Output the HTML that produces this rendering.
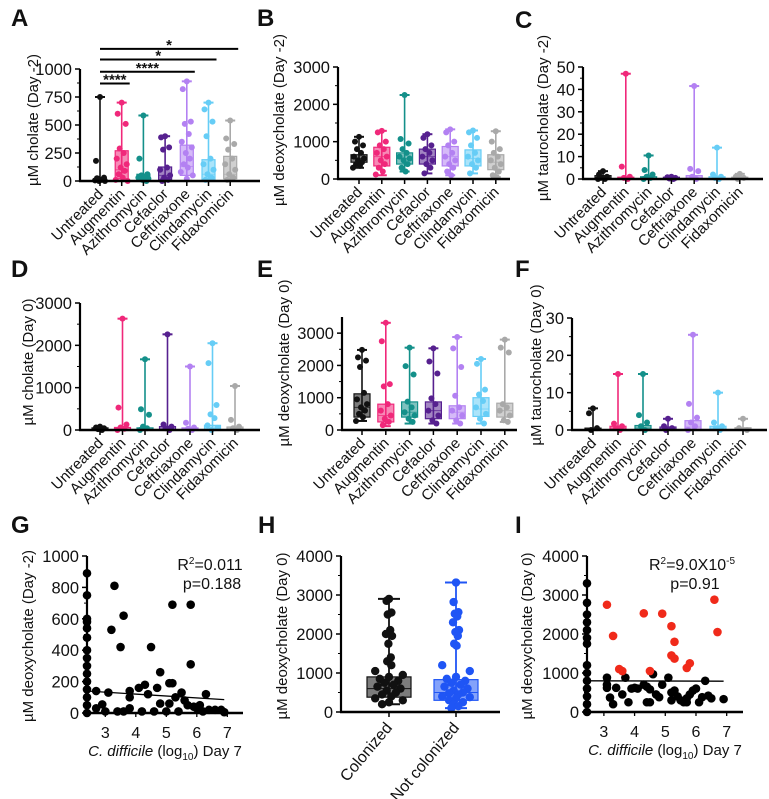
<!DOCTYPE html>
<html><head><meta charset="utf-8"><style>
html,body{margin:0;padding:0;background:#fff;}
svg{display:block;font-family:"Liberation Sans",Arial,sans-serif;}
</style></head><body>
<svg id="fig" width="769" height="799" viewBox="0 0 769 799" xmlns="http://www.w3.org/2000/svg"></svg>
<script>
// ---------- data ----------
const categories = ["Untreated","Augmentin","Azithromycin","Cefaclor","Ceftriaxone","Clindamycin","Fidaxomicin"];
const groupColors = ["#111111","#f0287a","#14908a","#56208f","#b381f2","#66cdf6","#a9a9a9"];
// box stats: [min,q1,median,q3,max]
const aBoxes = [[0,0,5,20,750],[0,20,100,270,700],[0,10,30,60,585],[0,10,50,125,400],[0,50,130,320,890],[0,10,60,190,700],[0,20,60,220,540]];
const aPoints = [[750,180,30,20,10,5,0,0,15,25],[700,600,510,290,250,200,150,120,90,60,30,10,0],[585,200,60,50,40,30,20,10,0],[400,390,300,280,120,100,50,30,10,0],[890,820,530,510,420,350,300,250,200,150,120,80,50,20],[700,640,530,400,200,150,100,60,30,10],[540,380,330,280,200,150,100,60,30,10]];
const aTicks = [0,250,500,750,1000];
const aSigLabels = ["****","****","*","*"];
const aSigLevels = [870,975,1085,1180];
const aSigTargets = [1,4,5,6];

const bBoxes = [[300,450,550,650,1130],[100,350,600,850,1290],[200,400,550,700,2250],[150,400,600,800,1200],[100,350,600,870,1330],[150,350,550,780,1300],[50,250,450,650,1280]];
const bPoints = [[1130,1000,900,800,700,600,550,500,450,400,350,300],[1290,1250,1000,900,800,700,600,500,400,300,200,120],[2250,1070,950,800,700,600,550,500,400,300,200],[1200,1100,900,800,700,600,500,400,300,150],[1330,1250,1000,900,700,600,500,400,300,200,100],[1300,1250,1100,900,700,600,500,400,300,150],[1280,1000,800,700,600,500,400,300,200,100,50]];
const bTicks = [0,1000,2000,3000];

const cBoxes = [[0,0,0.5,1.5,3.5],[0,0,0.3,0.8,47],[0,0,0.3,1,10.5],[0,0,0.2,0.8,1],[0,0,0.5,1.5,41.5],[0,0,0.3,1,14],[0,0,0.3,0.8,2.3]];
const cPoints = [[3.5,2,1,0.5,0,0],[47,5.5,1,0.5,0],[10.5,4,2,1,0.5,0],[1,0.8,0.5,0.2,0],[41.5,4.5,3.5,1,0],[14,2,1,0.5,0],[2.3,1,0.5,0]];
const cTicks = [0,10,20,30,40,50];

const dBoxes = [[0,0,20,50,80],[0,0,20,60,2630],[0,0,10,50,1670],[0,0,20,80,2260],[0,0,20,50,1500],[0,0,30,110,2050],[0,0,30,70,1040]];
const dPoints = [[80,60,40,20,0],[2630,530,130,60,30,0],[1670,490,360,80,40,0],[2260,130,80,40,0],[1500,170,60,30,0],[2050,1580,590,370,280,110,50,0],[1040,240,80,40,0]];
const dTicks = [0,1000,2000,3000];

const eBoxes = [[280,400,700,1120,2480],[120,250,450,800,3320],[200,400,550,870,2550],[200,350,600,870,2530],[200,350,550,750,2880],[200,420,650,1000,2200],[250,400,600,830,2800]];
const ePoints = [[2480,2250,2150,1950,1150,950,800,700,600,500,400,280],[3320,2750,1420,1350,800,600,450,350,250,150],[2550,1980,1720,880,700,550,450,350,250],[2530,2120,1750,980,800,600,450,300,200],[2880,2530,1950,1060,700,600,450,300,200],[2200,2050,1250,1100,900,700,500,350,200],[2800,2550,2400,800,700,600,450,300,250]];
const eTicks = [0,1000,2000,3000];

const fBoxes = [[0,0,0.2,0.5,5.8],[0,0,0.5,1,15],[0,0,0.5,1.2,15],[0,0,0.3,0.8,3],[0,0,0.8,2.5,25.5],[0,0,0.5,1,10],[0,0,0.3,0.6,3]];
const fPoints = [[5.8,4.5,0.5,0],[15,1.7,1,0.5,0],[15,4,2,1,0],[3,1,0.5,0],[25.5,7,3.3,2,1,0],[10,2,1,0.5,0],[3,0.5,0]];
const fTicks = [0,10,20,30];

const gX = [2.4,2.4,2.4,2.4,2.4,2.4,2.4,2.4,2.4,2.4,2.4,2.4,2.4,2.4,2.4,2.7,2.7,2.9,3.1,3.2,3.3,3.5,3.6,3.4,3.8,3.8,3.8,4.1,4.3,4.4,4.5,4.7,4.8,4.8,4.6,5.1,5.2,5.2,5.1,5.3,5.5,5.6,5.8,5.8,5.7,5.9,6.0,6.1,6.3,6.4,6.6,6.8,5.4,5.0,4.2,3.0,3.6,6.2,6.9];
const gY = [890,750,600,580,540,480,400,350,300,250,200,150,100,50,0,140,30,55,130,530,810,420,620,10,140,100,30,160,180,120,420,160,260,60,10,190,690,190,60,100,130,80,690,310,50,40,30,50,120,20,20,20,10,10,10,10,10,10,5];
const gFit = [[2.4,140],[6.9,85]];
const gTicksY = [0,200,400,600,800,1000];
const xTicksLog = [3,4,5,6,7];

const hGroups = ["Colonized","Not colonized"];
const hColors = ["#111111","#1f55f5"];
const hBoxes = [[200,380,600,900,2900],[100,300,500,830,3320]];
const hPoints = [[2900,2850,2550,2500,2100,2000,1950,1750,1400,1300,1200,1050,950,900,850,800,750,700,650,600,550,500,450,400,350,300,250,200],[3320,2820,2560,2520,2450,2300,2100,2050,1950,1750,1700,1200,1050,900,850,800,750,700,650,600,550,500,480,450,400,380,350,300,250,200,150,100]];
const hTicks = [0,1000,2000,3000,4000];

const iBlackX = [2.45,2.45,2.45,2.45,2.45,2.45,2.45,2.45,2.45,2.45,2.45,2.45,2.45,2.45,3.1,3.1,3.1,3.2,3.3,3.4,3.6,3.7,3.8,3.9,4.0,4.1,4.3,4.4,4.4,4.5,4.5,4.6,4.7,4.8,4.9,5.1,5.2,5.2,5.3,5.4,5.5,5.6,5.7,5.8,5.9,6.0,6.1,6.2,6.3,6.4,6.5,6.9,5.7];
const iBlackY = [3300,2800,2500,2300,2100,1900,1750,1200,1000,800,600,400,200,0,880,620,700,370,200,620,450,880,250,600,620,600,700,650,250,580,250,970,450,380,700,880,500,300,550,400,300,250,350,450,550,600,250,380,800,420,350,330,250];
const iRedX = [3.1,3.3,3.5,3.6,4.3,4.5,4.9,5.2,5.3,5.2,5.3,5.7,5.8,6.6,6.7];
const iRedY = [2750,1950,1100,1050,2530,1050,2520,2200,1800,1450,1370,1130,1250,2880,2050];
const iFit = [[2.45,800],[6.9,790]];
const iTicksY = [0,1000,2000,3000,4000];

// ---------- drawing ----------
const NS = "http://www.w3.org/2000/svg";
const svg = document.getElementById("fig");
function el(tag, attrs, parent, text) {
  const e = document.createElementNS(NS, tag);
  for (const k in attrs) e.setAttribute(k, attrs[k]);
  if (text !== undefined) e.textContent = text;
  (parent || svg).appendChild(e);
  return e;
}
const jitter = [0,-4,4,-2,2,-5,5,-1,3,-3,1,-6,6,0,-4,4,-2,2,-5,5,-1,3,-3,1,-6,6,0,-3,3,-1,1,-2];

function yAxis(g, ax, y0, y1, vmax, ticks, minor, name) {
  const ys = v => y0 - (v / vmax) * (y0 - y1);
  const top = ys(ticks[ticks.length-1]) ;
  const line = el("line", {x1:ax, y1:Math.min(top, y1), x2:ax, y2:y0+1, stroke:"#000","stroke-width":2.2}, g);
  
  
  ticks.forEach(t => {
    el("line", {x1:ax-5, y1:ys(t), x2:ax, y2:ys(t), stroke:"#000","stroke-width":1.5}, g);
    const tx = el("text", {x:ax-8, y:ys(t)+6, "text-anchor":"end","font-size":16.5, fill:"#111"}, g, String(t));
    
    
  });
  if (minor) for (let i = 0; i < ticks.length-1; i++) {
    const m = (ticks[i] + ticks[i+1]) / 2;
    el("line", {x1:ax-3, y1:ys(m), x2:ax, y2:ys(m), stroke:"#000","stroke-width":1}, g);
  }
  return ys;
}
function yTitle(g, x, y, txt, name) {
  const t = el("text", {x:x, y:y, "text-anchor":"middle","font-size":15, fill:"#111", transform:`rotate(-90 ${x} ${y})`}, g, txt);
  
  
  return t;
}
function letter(x, y, s) {
  const t = el("text", {x:x, y:y, "font-size":24, "font-weight":"bold", fill:"#111"}, svg, s);
  
  
}
function boxPanel(c) {
  const g = el("g", {}, svg);
  
  
  const ys = v => c.y0 - (v / c.vmax) * (c.y0 - c.y1);
  const xs = i => c.cx0 + i * c.dx;
  c.boxes.forEach((b, i) => {
    const col = c.colors[i], x = xs(i), hw = c.bw / 2;
    const gg = el("g", {}, g);
    
    
    el("line", {x1:x, y1:ys(b[0]), x2:x, y2:ys(b[4]), stroke:col, "stroke-width":1.6}, gg);
    el("line", {x1:x-5, y1:ys(b[4]), x2:x+5, y2:ys(b[4]), stroke:col, "stroke-width":2}, gg);
    el("line", {x1:x-5, y1:ys(b[0]), x2:x+5, y2:ys(b[0]), stroke:col, "stroke-width":2}, gg);
    el("rect", {x:x-hw, y:ys(b[3]), width:c.bw, height:Math.max(0.5, ys(b[1]) - ys(b[3])), fill:col, "fill-opacity":0.55, stroke:col, "stroke-width":1.2}, gg);
    el("line", {x1:x-hw, y1:ys(b[2]), x2:x+hw, y2:ys(b[2]), stroke:col, "stroke-width":1, "stroke-opacity":0.7}, gg);
    c.points[i].forEach((v, k) => {
      const p = el("circle", {cx:x + jitter[k % jitter.length] * c.jit, cy:ys(v), r:c.r, fill:col}, gg);
      
      
    });
  });
  yAxis(g, c.ax, c.y0, c.y1, c.vmax, c.ticks, true, c.name);
  const xl = el("line", {x1:c.ax-1, y1:c.y0, x2:c.axEnd, y2:c.y0, stroke:"#000", "stroke-width":2.5}, g);
  
  
  c.cats.forEach((n, i) => {
    el("line", {x1:xs(i), y1:c.y0, x2:xs(i), y2:c.y0+5, stroke:"#000","stroke-width":1.5}, g);
    const lx = xs(i) + 4, ly = c.y0 + 14;
    const t = el("text", {x:lx, y:ly, "text-anchor":"end", "font-size":c.fs, fill:"#111", transform:`rotate(-45 ${lx} ${ly})`}, g, n);
    
    
  });
  yTitle(g, c.tx, c.ty, c.title, c.name);
  return {g, ys, xs};
}

// Panel A
letter(11, 26, "A");
const A = boxPanel({name:"a", boxes:aBoxes, points:aPoints, cats:categories, colors:groupColors, ax:80, y0:181, y1:69, vmax:1000, cx0:100, dx:21.7, bw:13, axEnd:260, ticks:aTicks, r:3, jit:1, fs:15, tx:38, ty:120, title:"µM cholate (Day -2)"});
aSigLevels.forEach((lv, i) => {
  const y = A.ys(lv), x2 = A.xs(aSigTargets[i]) + 8;
  const l = el("line", {x1:A.xs(0), y1:y, x2:x2, y2:y, stroke:"#000", "stroke-width":2}, A.g);
  
  
  const t = el("text", {x:(A.xs(0)+x2)/2, y:y+1, "text-anchor":"middle", "font-size":15, "font-weight":"bold", fill:"#111"}, A.g, aSigLabels[i]);
  
  
});
// Panel B
letter(257, 26, "B");
boxPanel({name:"b", boxes:bBoxes, points:bPoints, cats:categories, colors:groupColors, ax:338, y0:179, y1:67, vmax:3000, cx0:359, dx:22.8, bw:16, axEnd:510, ticks:bTicks, r:3, jit:1, fs:15, tx:284, ty:120, title:"µM deoxycholate (Day -2)"});
// Panel C
letter(515, 28, "C");
boxPanel({name:"c", boxes:cBoxes, points:cPoints, cats:categories, colors:groupColors, ax:583, y0:179, y1:67, vmax:50, cx0:603, dx:22.8, bw:16, axEnd:763, ticks:cTicks, r:3, jit:1, fs:15, tx:548, ty:118, title:"µM taurocholate (Day -2)"});
// Panel D
letter(11, 277, "D");
boxPanel({name:"d", boxes:dBoxes, points:dPoints, cats:categories, colors:groupColors, ax:80, y0:430, y1:303, vmax:3000, cx0:100, dx:22.5, bw:16, axEnd:260, ticks:dTicks, r:3, jit:1, fs:15, tx:33, ty:362, title:"µM cholate (Day 0)"});
// Panel E
letter(257, 277, "E");
boxPanel({name:"e", boxes:eBoxes, points:ePoints, cats:categories, colors:groupColors, ax:342, y0:430, y1:317, vmax:3500, cx0:362, dx:23.8, bw:16, axEnd:517, ticks:eTicks, r:3, jit:1, fs:15, tx:289, ty:363, title:"µM deoxycholate (Day 0)"});
// Panel F
letter(515, 277, "F");
boxPanel({name:"f", boxes:fBoxes, points:fPoints, cats:categories, colors:groupColors, ax:572, y0:430, y1:318, vmax:30, cx0:593, dx:25, bw:16, axEnd:767, ticks:fTicks, r:3, jit:1, fs:15, tx:541, ty:365, title:"µM taurocholate (Day 0)"});

// Scatter panels
function scatterPanel(c) {
  const g = el("g", {}, svg);
  
  
  const xs = v => c.ax + (v - c.xmin) * c.pxPerUnit;
  const ys = yAxis(g, c.ax, c.y0, c.y1, c.vmax, c.ticks, true, c.name);
  c.series.forEach(s => {
    s.x.forEach((xv, i) => {
      const p = el("circle", {cx:xs(xv), cy:ys(s.y[i]), r:4.3, fill:s.color}, g);
      
      
    });
  });
  const fl = el("line", {x1:xs(c.fit[0][0]), y1:ys(c.fit[0][1]), x2:xs(c.fit[1][0]), y2:ys(c.fit[1][1]), stroke:"#000", "stroke-width":1.3}, g);
  
  
  const xl = el("line", {x1:c.ax-1, y1:c.y0, x2:c.axEnd, y2:c.y0, stroke:"#000", "stroke-width":2.5}, g);
  
  
  xTicksLog.forEach(t => {
    el("line", {x1:xs(t), y1:c.y0, x2:xs(t), y2:c.y0+4, stroke:"#000","stroke-width":1.3}, g);
    const tl = el("text", {x:xs(t), y:c.y0+25, "text-anchor":"middle","font-size":16, fill:"#111"}, g, String(t));
    
    
  });
  const xt = el("text", {x:c.xTitleX, y:c.y0+43, "text-anchor":"middle", "font-size":15, fill:"#111"}, g);
  
  
  el("tspan", {"font-style":"italic"}, xt, "C. difficile");
  el("tspan", {}, xt, " (log");
  el("tspan", {"font-size":10, dy:4}, xt, "10");
  el("tspan", {dy:-4}, xt, ") Day 7");
  yTitle(g, c.tx, c.ty, c.title, c.name);
  const st = el("text", {x:c.statX, y:c.statY, "text-anchor":"middle", "font-size":16, fill:"#111"}, g);
  
  
  el("tspan", {}, st, "R");
  el("tspan", {"font-size":10, dy:-6}, st, "2");
  el("tspan", {dy:6}, st, c.r2);
  if (c.r2sup) { el("tspan", {"font-size":10, dy:-6}, st, c.r2sup); }
  const pt = el("text", {x:c.pX, y:c.statY+19, "text-anchor":"middle", "font-size":16, fill:"#111"}, g, c.p);
  
  
}
letter(11, 533, "G");
scatterPanel({name:"g", ax:87, xmin:2.4, pxPerUnit:30.5, y0:713, y1:556, vmax:1000, ticks:gTicksY, axEnd:243, series:[{x:gX, y:gY, color:"#000", label:"mouse"}], fit:gFit, tx:33, ty:636, title:"µM deoxycholate (Day -2)", xTitleX:165, statX:210, statY:570, r2:"=0.011", p:"p=0.188", pX:212});
letter(258, 533, "H");
// Panel H
(function(){
  const g = el("g", {}, svg);
  
  
  const ax = 341, y0 = 712, y1 = 556, vmax = 4000;
  const ys = v => y0 - (v / vmax) * (y0 - y1);
  const xs = i => 389 + i * 67;
  hBoxes.forEach((b, i) => {
    const col = hColors[i], x = xs(i), hw = 22;
    const gg = el("g", {}, g);
    
    
    el("line", {x1:x, y1:ys(b[0]), x2:x, y2:ys(b[4]), stroke:col, "stroke-width":1.8}, gg);
    el("line", {x1:x-11, y1:ys(b[4]), x2:x+11, y2:ys(b[4]), stroke:col, "stroke-width":2}, gg);
    el("line", {x1:x-11, y1:ys(b[0]), x2:x+11, y2:ys(b[0]), stroke:col, "stroke-width":2}, gg);
    el("rect", {x:x-hw, y:ys(b[3]), width:hw*2, height:ys(b[1]) - ys(b[3]), fill:col, "fill-opacity":0.55, stroke:col, "stroke-width":1.2}, gg);
    el("line", {x1:x-hw, y1:ys(b[2]), x2:x+hw, y2:ys(b[2]), stroke:col, "stroke-width":1}, gg);
    hPoints[i].forEach((v, k) => {
      const p = el("circle", {cx:x + jitter[k % jitter.length] * (v > 1200 ? 0.6 : 2.3), cy:ys(v), r:4.2, fill:col}, gg);
      
      
    });
  });
  yAxis(g, ax, y0, y1, vmax, hTicks, true, "h");
  const xl = el("line", {x1:ax-1, y1:y0, x2:500, y2:y0, stroke:"#000", "stroke-width":2.5}, g);
  
  
  hGroups.forEach((n, i) => {
    el("line", {x1:xs(i), y1:y0, x2:xs(i), y2:y0+5, stroke:"#000","stroke-width":1.5}, g);
    const lx = xs(i) + 4, ly = y0 + 16;
    const t = el("text", {x:lx, y:ly, "text-anchor":"end", "font-size":16, fill:"#111", transform:`rotate(-50 ${lx} ${ly})`}, g, n);
    
    
  });
  yTitle(g, 287, 636, "µM deoxycholate (Day 0)", "h");
})();
letter(515, 533, "I");
scatterPanel({name:"i", ax:587, xmin:2.45, pxPerUnit:30.7, y0:712, y1:556, vmax:4000, ticks:iTicksY, axEnd:743, series:[{x:iBlackX, y:iBlackY, color:"#000", label:"low"},{x:iRedX, y:iRedY, color:"#f02a1a", label:"high"}], fit:iFit, tx:532, ty:636, title:"µM deoxycholate (Day 0)", xTitleX:665, statX:692, statY:570, r2:"=9.0X10", r2sup:"-5", p:"p=0.91", pX:695});
</script>
</body></html>
